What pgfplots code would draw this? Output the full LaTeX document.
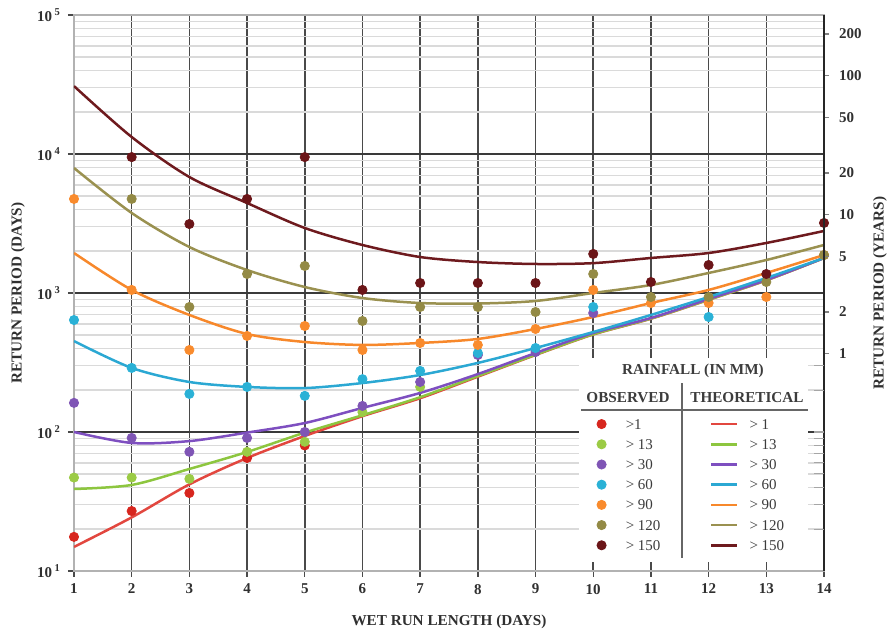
\documentclass[border=0pt]{standalone}
\usepackage{fontspec}
\setmainfont{Liberation Serif}
\usepackage{pgfplots}
\pgfplotsset{compat=1.18}

% series colours (dots / curves)
\definecolor{dRed}{HTML}{D7261E}\definecolor{lRed}{HTML}{E2473F}
\definecolor{dGrn}{HTML}{9BCB45}\definecolor{lGrn}{HTML}{8DC63F}
\definecolor{dPur}{HTML}{7F55B5}\definecolor{lPur}{HTML}{7E4FC0}
\definecolor{dCya}{HTML}{2AB1D6}\definecolor{lCya}{HTML}{2BA8D3}
\definecolor{dOra}{HTML}{F98B2D}\definecolor{lOra}{HTML}{F7882B}
\definecolor{dOli}{HTML}{938A45}\definecolor{lOli}{HTML}{9A9150}
\definecolor{dBrn}{HTML}{6B1518}\definecolor{lBrn}{HTML}{6E1A1E}
% grid and text
\definecolor{gridV}{HTML}{4A4A4A}
\definecolor{gridH}{HTML}{3A3A3A}
\definecolor{gridMinor}{HTML}{DADADA}
\definecolor{tickText}{HTML}{303030}
\definecolor{legText}{HTML}{3C3C3C}

\newcommand{\lblfont}{\bfseries\fontsize{7.6}{9}\selectfont}
\newcommand{\tickfont}{\bfseries\fontsize{7.5}{9}\selectfont}
\newcommand{\entfont}{\fontsize{7.5}{9}\selectfont}

\pgfplotsset{
  theo/.style={forget plot, smooth, line width=1.25pt, #1},
  obs/.style={forget plot, only marks, mark=*, mark size=2.3pt, color=#1},
}

\begin{document}
\begin{tikzpicture}
\useasboundingbox (-37pt,-32pt) rectangle (410pt,285.5pt);

% ---------- return period in days ----------
\begin{axis}[
  at={(0pt,0pt)}, anchor=south west,
  scale only axis, width=375pt, height=278pt,
  xmin=1, xmax=14, ymin=10, ymax=100000, ymode=log,
  xtick={1,...,14},
  ytick={10,100,1000,10000,100000},
  yticklabels={10\,\textsuperscript{1},10\,\textsuperscript{2},10\,\textsuperscript{3},10\,\textsuperscript{4},10\,\textsuperscript{5}},
  xtick pos=bottom, ytick pos=left,
  tick align=outside, major tick length=3pt, minor tick length=0pt,
  tick style={draw=gridV, line width=0.7pt},
  xmajorgrids, ymajorgrids, yminorgrids,
  major x grid style={draw=gridV, line width=0.75pt},
  major y grid style={draw=gridH, line width=0.8pt},
  minor y grid style={draw=gridMinor, line width=0.75pt},
  axis line style={draw=gray!60, line width=0.6pt},
  /pgf/number format/assume math mode=true,
  ticklabel style={font=\tickfont, text=tickText},
  xlabel={WET RUN LENGTH (DAYS)},
  ylabel={RETURN PERIOD (DAYS)},
  every axis x label/.style={at={(axis description cs:0.5,-0.0917)}, anchor=center, font=\lblfont, text=tickText},
  every axis y label/.style={at={(axis description cs:-0.0747,0.5)}, rotate=90, anchor=center, font=\lblfont, text=tickText},
  legend image code/.code={\draw[#1] plot coordinates {(0pt,0pt)};},
  legend cell align=left,
  legend style={at={(axis description cs:0.6973,0.2824)}, anchor=north west,
    draw=none, fill=none, inner sep=0pt, outer sep=0pt,
    row sep=0pt, column sep=9.8pt, font=\entfont, text=legText,
    nodes={inner sep=0pt, outer sep=0pt, text height=5pt, text depth=0pt, minimum height=10.1pt}},
]
% blank panel behind the key
\fill[white] (axis description cs:0.6733,0.0162) rectangle (axis description cs:0.9787,0.3831);

% theoretical curves
\addplot[theo=lRed] coordinates {(1,14.9) (2,24.3) (3,42) (4,65) (5,93.6) (6,130) (7,175) (8,250) (9,358) (10,503) (11,653) (12,893) (13,1233) (14,1786)};
\addplot[theo=lGrn] coordinates {(1,38.9) (2,41.6) (3,54.2) (4,71.8) (5,99) (6,132) (7,178) (8,253) (9,360) (10,505) (11,655) (12,895) (13,1235) (14,1786)};
\addplot[theo=lPur] coordinates {(1,100) (2,83.4) (3,86) (4,99) (5,116) (6,149) (7,191) (8,261) (9,370) (10,516) (11,661) (12,905) (13,1241) (14,1786)};
\addplot[theo=lCya] coordinates {(1,451) (2,289) (3,229) (4,211) (5,207) (6,225) (7,257) (8,314) (9,402) (10,524) (11,695) (12,936) (13,1282) (14,1786)};
\addplot[theo=lOra] coordinates {(1,1940) (2,1052) (3,695) (4,507) (5,444) (6,423) (7,437) (8,467) (9,551) (10,672) (11,847) (12,1052) (13,1393) (14,1876)};
\addplot[theo=lOli] coordinates {(1,7930) (2,3765) (3,2142) (4,1463) (5,1104) (6,920) (7,847) (8,840) (9,876) (10,1000) (11,1142) (12,1393) (13,1727) (14,2215)};
\addplot[theo=lBrn] coordinates {(1,30800) (2,13250) (3,6830) (4,4440) (5,2935) (6,2215) (7,1815) (8,1670) (9,1617) (10,1640) (11,1786) (12,1940) (13,2290) (14,2794)};

% observed return periods
\addplot[obs=dRed] coordinates {(1,17.6) (2,27) (3,36.4) (4,65) (5,80)};
\addplot[obs=dGrn] coordinates {(1,47) (2,47) (3,46) (4,72) (5,85) (6,139) (7,211)};
\addplot[obs=dPur] coordinates {(1,162) (2,90.6) (3,72) (4,90.6) (5,100) (6,154) (7,229) (8,358) (9,376) (10,718)};
\addplot[obs=dCya] coordinates {(1,639) (2,289) (3,188) (4,211) (5,182) (6,240) (7,275) (8,370) (9,402) (10,793) (12,672)};
\addplot[obs=dOra] coordinates {(1,4750) (2,1052) (3,389) (4,491) (5,579) (6,389) (7,437) (8,423) (9,551) (10,1052) (11,847) (12,847) (13,936) (14,1876)};
\addplot[obs=dOli] coordinates {(2,4750) (3,793) (4,1370) (5,1565) (6,629) (7,793) (8,793) (9,730) (10,1370) (11,936) (12,936) (13,1200) (14,1876)};
\addplot[obs=dBrn] coordinates {(2,9500) (3,3135) (4,4750) (5,9500) (6,1052) (7,1180) (8,1180) (9,1180) (10,1910) (11,1200) (12,1590) (13,1370) (14,3190)};

% key: observed column
\addlegendimage{only marks, mark=*, mark size=2.3pt, dRed}\addlegendentry{>1}
\addlegendimage{only marks, mark=*, mark size=2.3pt, dGrn}\addlegendentry{> 13}
\addlegendimage{only marks, mark=*, mark size=2.3pt, dPur}\addlegendentry{> 30}
\addlegendimage{only marks, mark=*, mark size=2.3pt, dCya}\addlegendentry{> 60}
\addlegendimage{only marks, mark=*, mark size=2.3pt, dOra}\addlegendentry{> 90}
\addlegendimage{only marks, mark=*, mark size=2.3pt, dOli}\addlegendentry{> 120}
\addlegendimage{only marks, mark=*, mark size=2.3pt, dBrn}\addlegendentry{> 150}

% key headings and rules
\node[font=\lblfont, text=legText] at (axis description cs:0.8253,0.3597) {RAINFALL (IN MM)};
\node[font=\lblfont, text=legText] at (axis description cs:0.7387,0.3112) {OBSERVED};
\node[font=\lblfont, text=legText] at (axis description cs:0.8973,0.3112) {THEORETICAL};
\draw[draw=gray!80!black, line width=0.75pt] (axis description cs:0.6760,0.2896) -- (axis description cs:0.9787,0.2896);
\draw[draw=gray!80!black, line width=0.75pt] (axis description cs:0.8107,0.3381) -- (axis description cs:0.8107,0.0234);
\end{axis}

% ---------- return period in years ----------
\begin{axis}[
  at={(0pt,0pt)}, anchor=south west,
  scale only axis, width=375pt, height=278pt,
  xmin=1, xmax=14, ymode=log, ymin=0.0273973, ymax=273.973,
  axis x line=none, axis y line*=right,
  ytick={1,2,5,10,20,50,100,200},
  yticklabels={1,2,5,10,20,50,100,200},
  tick align=outside, major tick length=2.5pt, minor tick length=0pt,
  tick style={draw=gray, line width=0.6pt},
  extra y ticks={0.0547945,0.0821918,0.109589,0.136986,0.164384,0.191781,0.219178,0.246575,0.273973,0.547945,0.821918},
  extra y tick labels={},
  extra y tick style={tick align=inside, major tick length=5pt, tick style={draw=gray!70, line width=0.6pt}},
  axis line style={draw=black!85, line width=0.8pt},
  yticklabel style={font=\tickfont, text=tickText, xshift=1.5pt},
  ylabel={RETURN PERIOD (YEARS)},
  every axis y label/.style={at={(axis description cs:1.0747,0.5)}, rotate=90, anchor=center, font=\lblfont, text=tickText},
  legend image code/.code={\draw[#1] (0pt,0pt) -- (13pt,0pt);},
  legend cell align=left,
  legend style={at={(axis description cs:0.848,0.2824)}, anchor=north west,
    draw=none, fill=none, inner sep=0pt, outer sep=0pt,
    row sep=0pt, column sep=5.5pt, font=\entfont, text=legText,
    nodes={inner sep=0pt, outer sep=0pt, text height=5pt, text depth=0pt, minimum height=10.1pt}},
]
% key: theoretical column
\addlegendimage{line width=1.25pt, lRed}\addlegendentry{> 1}
\addlegendimage{line width=1.25pt, lGrn}\addlegendentry{> 13}
\addlegendimage{line width=1.25pt, lPur}\addlegendentry{> 30}
\addlegendimage{line width=1.25pt, lCya}\addlegendentry{> 60}
\addlegendimage{line width=1.25pt, lOra}\addlegendentry{> 90}
\addlegendimage{line width=1.25pt, lOli}\addlegendentry{> 120}
\addlegendimage{line width=1.25pt, lBrn}\addlegendentry{> 150}
\end{axis}
\end{tikzpicture}
\end{document}
